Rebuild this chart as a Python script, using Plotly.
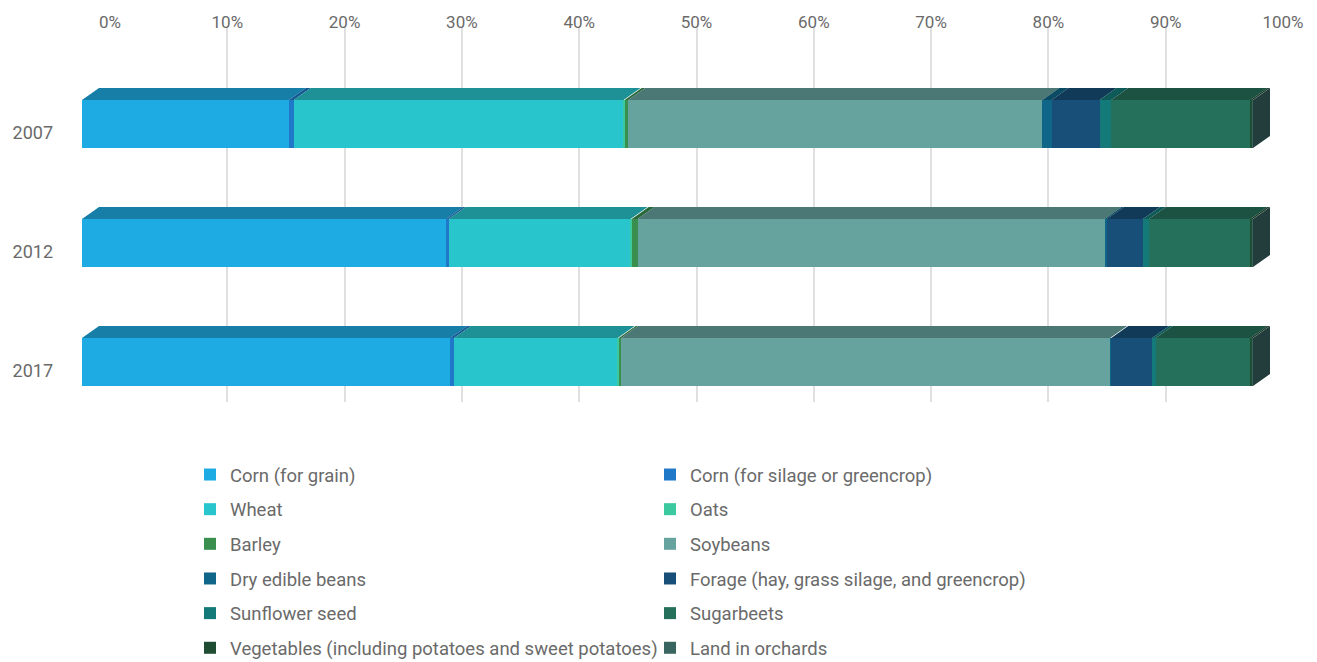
import plotly.graph_objects as go

years = ["2007", "2012", "2017"]
series_names = [
    "Corn (for grain)",
    "Corn (for silage or greencrop)",
    "Wheat",
    "Oats",
    "Barley",
    "Soybeans",
    "Dry edible beans",
    "Forage (hay, grass silage, and greencrop)",
    "Sunflower seed",
    "Sugarbeets",
    "Vegetables (including potatoes and sweet potatoes)",
    "Land in orchards",
]
corn_grain = [17.7, 31.2, 31.5]
corn_silage = [0.4, 0.2, 0.3]
wheat = [28.2, 15.6, 14.0]
oats = [0.1, 0.1, 0.1]
barley = [0.3, 0.5, 0.2]
soybeans = [35.4, 40.0, 41.8]
dry_beans = [0.8, 0.2, 0.1]
forage = [4.1, 3.1, 3.5]
sunflower = [1.0, 0.5, 0.3]
sugarbeets = [11.9, 8.7, 8.1]
vegetables = [0.2, 0.2, 0.2]
orchards = [0.02, 0.02, 0.02]
tick_values = [0, 10, 20, 30, 40, 50, 60, 70, 80, 90, 100]

series_values = [corn_grain, corn_silage, wheat, oats, barley, soybeans,
                 dry_beans, forage, sunflower, sugarbeets, vegetables, orchards]
colors = ["#1EABE3", "#1F78C8", "#29C5CC", "#3CC9A0", "#3A8F4F", "#66A39F",
          "#0F6688", "#174F78", "#137A79", "#25705A", "#1E4D33", "#386560"]
side_color = "#233D3D"


def darker(hexc, f=0.74):
    h = hexc.lstrip("#")
    r, g, b = (int(h[i:i + 2], 16) for i in (0, 2, 4))
    return "rgb(%d,%d,%d)" % (r * f, g * f, b * f)


W, H = 1317, 662
front_left, px_per_pct = 82, 11.71
xmax2 = 102
bar_w = 0.403
dx = 17 / px_per_pct          # depth offset in % units
dy = 12 / 119.0               # depth offset in category units

fig = go.Figure()

# invisible trace to build back-wall grid axis
fig.add_trace(go.Scatter(x=[0, 100], y=[0, 0], xaxis="x", yaxis="y",
                         mode="markers", marker=dict(opacity=0),
                         showlegend=False, hoverinfo="skip"))

ypos = list(range(len(years)))
for k, (name, vals, col) in enumerate(zip(series_names, series_values, colors)):
    fig.add_trace(go.Bar(
        y=ypos, x=vals, name=name, orientation="h",
        marker=dict(color=col, line=dict(width=0)),
        width=bar_w, xaxis="x2", yaxis="y2",
        legend="legend" if k % 2 == 0 else "legend2",
        legendgroup="g%d" % k,
        customdata=years,
        hovertemplate="%{customdata}<br>" + name + ": %{x}<extra></extra>",
    ))

# 3D top faces computed from normalized cumulative values
totals = [sum(s[i] for s in series_values) for i in range(len(years))]
cum = [0.0] * len(years)
for k, (vals, col) in enumerate(zip(series_values, colors)):
    xs, ys = [], []
    for i in range(len(years)):
        x0 = cum[i]
        x1 = cum[i] + vals[i] / totals[i] * 100
        cum[i] = x1
        yt = ypos[i] - bar_w / 2
        xs += [x0, x0 + dx, x1 + dx, x1, x0, None]
        ys += [yt, yt - dy, yt - dy, yt, yt, None]
    fig.add_trace(go.Scatter(x=xs, y=ys, xaxis="x2", yaxis="y2", mode="lines",
                             fill="toself", fillcolor=darker(col),
                             line=dict(width=0, color=darker(col)),
                             showlegend=False, hoverinfo="skip"))

# right side face
xs, ys = [], []
for i in range(len(years)):
    yt, yb = ypos[i] - bar_w / 2, ypos[i] + bar_w / 2
    xs += [100, 100 + dx, 100 + dx, 100, 100, None]
    ys += [yt, yt - dy, yb - dy, yb, yt, None]
fig.add_trace(go.Scatter(x=xs, y=ys, xaxis="x2", yaxis="y2", mode="lines",
                         fill="toself", fillcolor=side_color,
                         line=dict(width=0, color=side_color),
                         showlegend=False, hoverinfo="skip"))

font_family = "Roboto, Arial, sans-serif"
text_color = "#6a6a6a"
legend_font = dict(size=18.5, color=text_color, family=font_family)
fig.update_layout(
    width=W, height=H,
    margin=dict(l=0, r=0, t=0, b=0, autoexpand=False),
    paper_bgcolor="white", plot_bgcolor="rgba(0,0,0,0)",
    barmode="stack", barnorm="percent",
    font=dict(family=font_family, color=text_color, size=17),
    xaxis=dict(domain=[110 / W, 1283 / W], range=[0, 100], side="top",
               anchor="y", tickvals=tick_values,
               ticktext=["%d%%" % v for v in tick_values],
               showgrid=True, gridcolor="#e0e0e0", gridwidth=2,
               zeroline=False, showline=False, ticks="",
               ticklabelstandoff=-4,
               tickfont=dict(size=17, color=text_color)),
    yaxis=dict(domain=[1 - 402 / H, 1 - 28 / H], range=[0, 1], visible=False,
               showgrid=False, fixedrange=True),
    xaxis2=dict(domain=[front_left / W, (front_left + xmax2 * px_per_pct) / W],
                range=[0, xmax2], anchor="y2", visible=False, showgrid=False),
    yaxis2=dict(domain=[1 - 421.5 / H, 1 - 64.5 / H], range=[2.5, -0.5],
                anchor="x2", tickvals=ypos, ticktext=years, showgrid=False,
                zeroline=False, showline=False, ticks="",
                ticklabelstandoff=28, ticklabelshift=-9,
                tickfont=dict(size=18, color=text_color)),
    legend=dict(x=(232 - 42) / W, y=1 - 456 / H, xanchor="left", yanchor="top",
                orientation="v", tracegroupgap=7.6, bgcolor="rgba(0,0,0,0)",
                font=legend_font),
    legend2=dict(x=(692 - 42) / W, y=1 - 456 / H, xanchor="left", yanchor="top",
                 orientation="v", tracegroupgap=7.6, bgcolor="rgba(0,0,0,0)",
                 font=legend_font),
)

fig.write_html("out.html",
               config={"displayModeBar": False},
               post_script="document.body.style.margin='0px';"
                           "document.body.style.overflow='hidden';")
